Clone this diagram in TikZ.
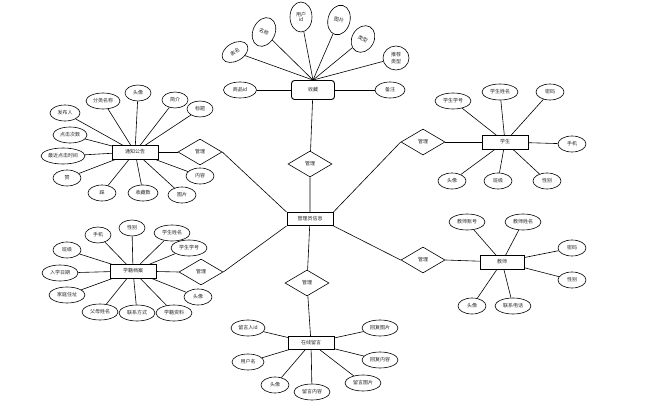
\documentclass[tikz,border=0pt]{standalone}
\usepackage{fontspec}
\setmainfont{Noto Sans CJK SC}
\usetikzlibrary{shapes.geometric,backgrounds}
\begin{document}
\begin{tikzpicture}[x=1pt,y=-1pt,
  every node/.style={font=\fontsize{5}{5.5}\selectfont, text=black!85, inner sep=0pt},
  ent/.style={draw=black, line width=0.9pt, fill=white, minimum width=46pt, minimum height=14pt},
  attr/.style={draw=black, line width=0.6pt, ellipse, fill=white, minimum width=#1, minimum height=16pt},
  attr/.default=28pt,
  rel/.style={draw=black, line width=0.6pt, diamond, aspect=1.7, fill=white, minimum width=44pt, minimum height=26pt},
  lnk/.style={line width=0.6pt, draw=black}]
\useasboundingbox (0,0) rectangle (651,403);

% central
\node[ent, minimum height=13pt] (adm) at (310,219) {管理员信息};

% top: 收藏
\node[ent, rounded corners=3pt, minimum width=43pt, minimum height=19pt] (sc) at (313,90) {收藏};
\node[rel] (r1) at (310,164) {管理};
\node[attr=33pt] (sc1) at (240,90) {商品id};
\node[attr=30pt] (sc2) at (390,90) {备注};
\node[attr=28pt, minimum height=18pt, rotate=30] (sc3) at (235,52) {表名};
\node[attr=22pt, minimum height=30pt, rotate=-25] (sc4) at (264,32) {名称};
\node[attr=22pt, minimum height=30pt, align=center] (sc5) at (301,17) {用户\\id};
\node[attr=22pt, minimum height=30pt, rotate=-15] (sc6) at (339,20) {图片};
\node[attr=22pt, minimum height=28pt, rotate=-30] (sc7) at (363,39) {类型};
\node[attr=26pt, minimum height=24pt, align=center, font=\fontsize{5}{6.5}\selectfont] (sc8) at (396,58) {推荐\\类型};

% left top: 通知公告
\node[ent] (tz) at (135,152) {通知公告};
\node[rel] (r2) at (200,152) {管理};
\node[attr=34pt] (tz1) at (103,101) {分类名称};
\node[attr=26pt] (tz2) at (138,93) {头像};
\node[attr=26pt] (tz3) at (175,100) {简介};
\node[attr=26pt] (tz4) at (200,109) {标题};
\node[attr=30pt] (tz5) at (65,113) {发布人};
\node[attr=34pt] (tz6) at (70,135) {点击次数};
\node[attr=44pt] (tz7) at (63,156) {最近点击时间};
\node[attr=28pt] (tz8) at (67,178) {赞};
\node[attr=28pt] (tz9) at (102,193) {踩};
\node[attr=30pt] (tz10) at (143,193) {收藏数};
\node[attr=28pt] (tz11) at (182,195) {图片};
\node[attr=28pt] (tz12) at (200,176) {内容};

% left bottom: 学籍档案
\node[ent] (xj) at (133,271) {学籍档案};
\node[rel] (r3) at (201,272) {管理};
\node[attr=26pt] (xj1) at (98,235) {手机};
\node[attr=26pt] (xj2) at (132,228) {性别};
\node[attr=36pt] (xj3) at (172,233) {学生姓名};
\node[attr=36pt] (xj4) at (189,248) {学生学号};
\node[attr=28pt] (xj5) at (67,250) {班级};
\node[attr=36pt] (xj6) at (60,273) {入学日期};
\node[attr=36pt] (xj7) at (67,295) {家庭住址};
\node[attr=28pt] (xj8) at (198,297) {头像};
\node[attr=36pt] (xj9) at (100,312) {父母姓名};
\node[attr=36pt] (xj10) at (137,313) {联系方式};
\node[attr=36pt] (xj11) at (174,313) {学籍资料};

% right top: 学生
\node[ent] (xs) at (505,142) {学生};
\node[rel] (r4) at (423,142) {管理};
\node[attr=36pt] (xs1) at (453,101) {学生学号};
\node[attr=36pt] (xs2) at (500,92) {学生姓名};
\node[attr=28pt] (xs3) at (550,92) {密码};
\node[attr=28pt] (xs4) at (572,144) {手机};
\node[attr=28pt] (xs5) at (452,181) {头像};
\node[attr=28pt] (xs6) at (498,181) {班级};
\node[attr=28pt] (xs7) at (547,181) {性别};

% right bottom: 教师
\node[ent, minimum width=44pt] (js) at (502,262) {教师};
\node[rel] (r5) at (423,260) {管理};
\node[attr=36pt] (js1) at (467,222) {教师账号};
\node[attr=36pt] (js2) at (523,222) {教师姓名};
\node[attr=28pt] (js3) at (572,248) {密码};
\node[attr=28pt] (js4) at (572,280) {性别};
\node[attr=28pt] (js5) at (472,306) {头像};
\node[attr=36pt] (js6) at (513,306) {联系电话};

% bottom: 在线留言
\node[ent, minimum height=13pt] (ly) at (311,343) {在线留言};
\node[rel] (r6) at (307,283) {管理};
\node[attr=34pt] (ly1) at (248,328) {留言人id};
\node[attr=32pt] (ly2) at (248,362) {用户名};
\node[attr=28pt] (ly3) at (275,385) {头像};
\node[attr=36pt] (ly4) at (312,392) {留言内容};
\node[attr=36pt] (ly5) at (363,383) {留言图片};
\node[attr=36pt] (ly6) at (380,328) {回复图片};
\node[attr=36pt] (ly7) at (380,360) {回复内容};

\begin{scope}[on background layer]
  % relations
  \draw[lnk] (sc) -- (r1) -- (adm);
  \draw[lnk] (tz) -- (r2.west);
  \draw[lnk] (r2.east) -- (adm.north west);
  \draw[lnk] (xj) -- (r3.west);
  \draw[lnk] (r3.east) -- (adm.south west);
  \draw[lnk] (xs) -- (r4.east);
  \draw[lnk] (r4.west) -- (adm.north east);
  \draw[lnk] (js) -- (r5.east);
  \draw[lnk] (r5.west) -- (adm.south east);
  \draw[lnk] (adm) -- (r6) -- (ly);
  % attributes
  \draw[lnk] (sc) -- (sc1);
  \draw[lnk] (sc) -- (sc2);
  \foreach \a in {sc3,sc4,sc5,sc6,sc7,sc8} \draw[lnk] (sc.north) -- (\a);
  \foreach \a in {tz1,tz2,tz3,tz4,tz5,tz6,tz7,tz8,tz9,tz10,tz11,tz12} \draw[lnk] (tz.center) -- (\a);
  \foreach \a in {xj1,xj2,xj3,xj4,xj5,xj6,xj7,xj8,xj9,xj10,xj11} \draw[lnk] (xj.center) -- (\a);
  \foreach \a in {xs1,xs2,xs3,xs4,xs5,xs6,xs7} \draw[lnk] (xs.center) -- (\a);
  \foreach \a in {js1,js2,js3,js4,js5,js6} \draw[lnk] (js.center) -- (\a);
  \foreach \a in {ly1,ly2,ly3,ly4,ly5,ly6,ly7} \draw[lnk] (ly.center) -- (\a);
\end{scope}
\end{tikzpicture}
\end{document}
